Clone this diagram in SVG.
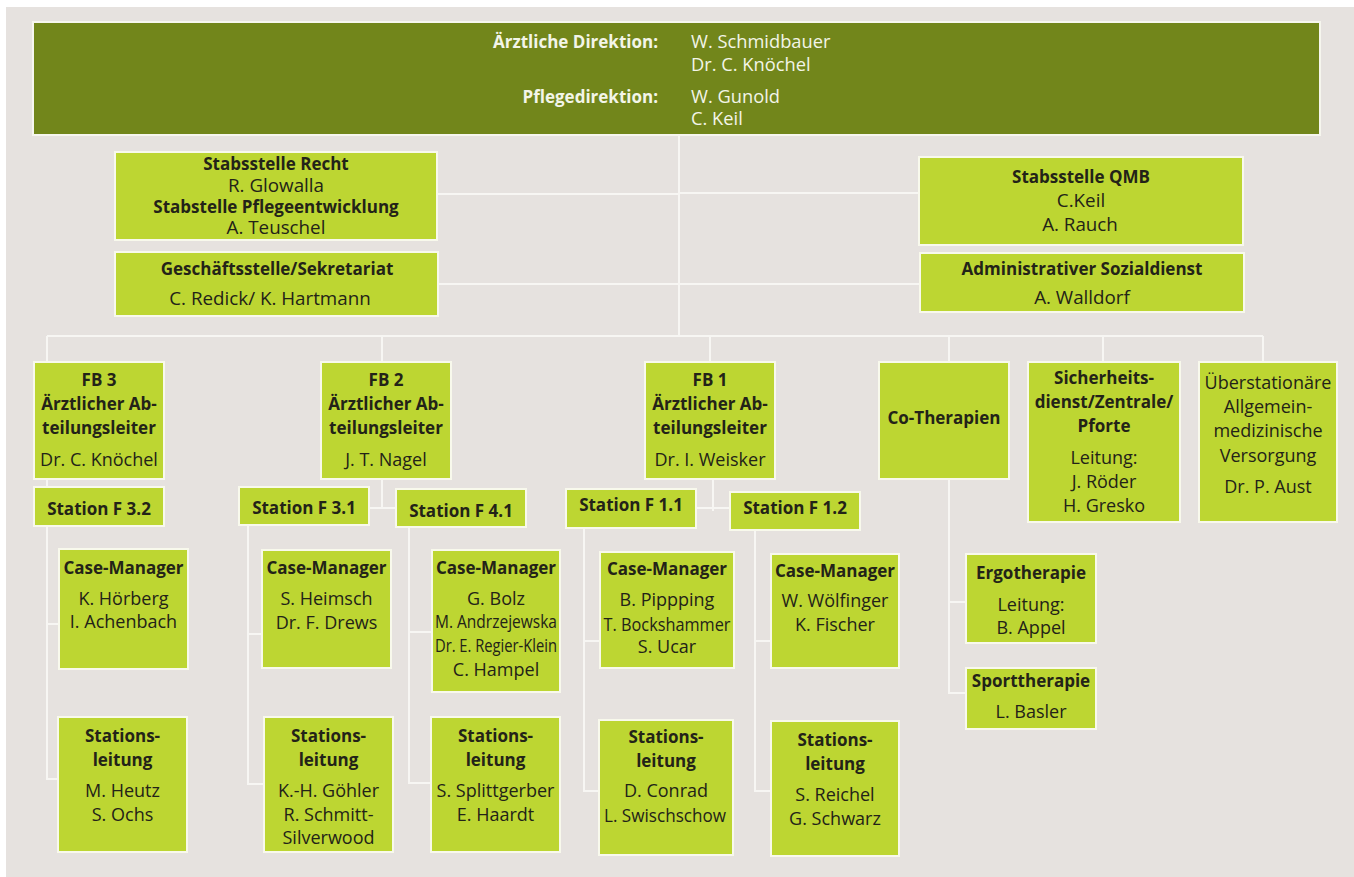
<svg xmlns="http://www.w3.org/2000/svg" width="1354" height="877" viewBox="0 0 1354 877">
<style>
.bg{fill:#e6e2df}
.top{fill:#72861b;stroke:#f6f6ee;stroke-width:2}
.box{fill:#bdd632;stroke:#f8f9ec;stroke-width:2}
.conn{stroke:#f7f6f3;stroke-width:2;fill:none}
text{font-family:"Open Sans","Noto Sans",sans-serif;font-size:18px;fill:#232318;text-anchor:middle}
.b{font-weight:700;font-size:17px}
.u{font-size:18.8px}
.w{fill:#f3f5e8;text-anchor:start;font-size:18.3px}
.we{fill:#f3f5e8;text-anchor:end;font-weight:700;font-size:17px}
</style>
<rect class="bg" x="6" y="7" width="1348" height="870"/>
<g id="connectors">
<path class="conn" d="M679,135V336M437,194H679M679,193H919M438,284H920"/>
<path class="conn" d="M47,336H1263M47,336V362M382,336V362M710,336V362M949,336V362M1103,336V362M1263,336V362"/>
<path class="conn" d="M47,479V487M47,526V779H58M47,624H59"/>
<path class="conn" d="M382,479V508M369,508H396"/>
<path class="conn" d="M248,525V784H264M248,634H262"/>
<path class="conn" d="M409,527V783H431M409,632H432"/>
<path class="conn" d="M713,479V511M696,508H730"/>
<path class="conn" d="M584,528V791H599M584,641H600"/>
<path class="conn" d="M755,530V791H771M755,641H771"/>
<path class="conn" d="M949,479V693H966M949,602H966"/>
</g>
<g id="direktion">
<rect class="top" x="33" y="22" width="1287" height="113"/>
<text class="we" x="658" y="48">Ärztliche Direktion:</text>
<text class="w" x="691" y="48">W. Schmidbauer</text>
<text class="w" x="691" y="71">Dr. C. Knöchel</text>
<text class="we" x="658" y="103">Pflegedirektion:</text>
<text class="w" x="691" y="103">W. Gunold</text>
<text class="w" x="691" y="125">C. Keil</text>
</g>
<g id="stabsstelle-recht">
<rect class="box" x="115" y="152" width="322" height="88"/>
<text class="b" x="276" y="170">Stabsstelle Recht</text>
<text class="u" x="276" y="192">R. Glowalla</text>
<text class="b" x="276" y="213">Stabstelle Pflegeentwicklung</text>
<text class="u" x="276" y="234">A. Teuschel</text>
</g>
<g id="geschaeftsstelle">
<rect class="box" x="115" y="252" width="323" height="64"/>
<text class="b" x="277" y="275">Geschäftsstelle/Sekretariat</text>
<text class="u" x="270" y="305">C. Redick/ K. Hartmann</text>
</g>
<g id="qmb">
<rect class="box" x="919" y="157" width="324" height="88"/>
<text class="b" x="1081" y="183">Stabsstelle QMB</text>
<text class="u" x="1081" y="207">C.Keil</text>
<text class="u" x="1080" y="231">A. Rauch</text>
</g>
<g id="sozialdienst">
<rect class="box" x="920" y="253" width="324" height="59"/>
<text class="b" x="1082" y="275">Administrativer Sozialdienst</text>
<text class="u" x="1082" y="304">A. Walldorf</text>
</g>
<g id="fb3">
<rect class="box" x="34" y="362" width="130" height="117"/>
<text class="b" x="99" y="386">FB 3</text>
<text class="b" x="99" y="410">Ärztlicher Ab-</text>
<text class="b" x="99" y="434">teilungsleiter</text>
<text x="99" y="466">Dr. C. Knöchel</text>
</g>
<g id="fb2">
<rect class="box" x="321" y="362" width="130" height="117"/>
<text class="b" x="386" y="386">FB 2</text>
<text class="b" x="386" y="410">Ärztlicher Ab-</text>
<text class="b" x="386" y="434">teilungsleiter</text>
<text x="386" y="466">J. T. Nagel</text>
</g>
<g id="fb1">
<rect class="box" x="645" y="362" width="130" height="117"/>
<text class="b" x="710" y="386">FB 1</text>
<text class="b" x="710" y="410">Ärztlicher Ab-</text>
<text class="b" x="710" y="434">teilungsleiter</text>
<text x="710" y="466">Dr. I. Weisker</text>
</g>
<g id="co-therapien">
<rect class="box" x="879" y="362" width="130" height="117"/>
<text class="b" x="944" y="424">Co-Therapien</text>
</g>
<g id="sicherheitsdienst">
<rect class="box" x="1028" y="362" width="152" height="160"/>
<text class="b" x="1104" y="384">Sicherheits-</text>
<text class="b" x="1104" y="408">dienst/Zentrale/</text>
<text class="b" x="1104" y="432">Pforte</text>
<text x="1104" y="464">Leitung:</text>
<text x="1104" y="488">J. Röder</text>
<text x="1104" y="512">H. Gresko</text>
</g>
<g id="ueberstationaer">
<rect class="box" x="1199" y="362" width="138" height="160"/>
<text x="1268" y="389">Überstationäre</text>
<text x="1268" y="413">Allgemein-</text>
<text x="1268" y="437">medizinische</text>
<text x="1268" y="462">Versorgung</text>
<text x="1268" y="493">Dr. P. Aust</text>
</g>
<g id="station-f32">
<rect class="box" x="34" y="487" width="130" height="39"/>
<text class="b" x="99" y="515">Station F 3.2</text>
</g>
<g id="station-f31">
<rect class="box" x="239" y="487" width="130" height="38"/>
<text class="b" x="304" y="514">Station F 3.1</text>
</g>
<g id="station-f41">
<rect class="box" x="396" y="489" width="130" height="38"/>
<text class="b" x="461" y="517">Station F 4.1</text>
</g>
<g id="station-f11">
<rect class="box" x="566" y="489" width="130" height="39"/>
<text class="b" x="631" y="511">Station F 1.1</text>
</g>
<g id="station-f12">
<rect class="box" x="730" y="492" width="130" height="38"/>
<text class="b" x="795" y="514">Station F 1.2</text>
</g>
<g id="cm-f32">
<rect class="box" x="59" y="549" width="129" height="120"/>
<text class="b" x="123.5" y="574">Case-Manager</text>
<text x="123.5" y="605">K. Hörberg</text>
<text x="123.5" y="628">I. Achenbach</text>
</g>
<g id="sl-f32">
<rect class="box" x="58" y="717" width="129" height="135"/>
<text class="b" x="122.5" y="742">Stations-</text>
<text class="b" x="122.5" y="766">leitung</text>
<text x="122.5" y="797">M. Heutz</text>
<text x="122.5" y="821">S. Ochs</text>
</g>
<g id="cm-f31">
<rect class="box" x="262" y="550" width="129" height="118"/>
<text class="b" x="326.5" y="574">Case-Manager</text>
<text x="326.5" y="605">S. Heimsch</text>
<text x="326.5" y="629">Dr. F. Drews</text>
</g>
<g id="sl-f31">
<rect class="box" x="264" y="717" width="129" height="135"/>
<text class="b" x="328.5" y="742">Stations-</text>
<text class="b" x="328.5" y="766">leitung</text>
<text x="328.5" y="797">K.-H. Göhler</text>
<text x="328.5" y="821">R. Schmitt-</text>
<text x="328.5" y="844">Silverwood</text>
</g>
<g id="cm-f41">
<rect class="box" x="432" y="550" width="128" height="142"/>
<text class="b" x="496" y="574">Case-Manager</text>
<text x="496" y="605">G. Bolz</text>
<text x="496" y="628" textLength="122" lengthAdjust="spacingAndGlyphs">M. Andrzejewska</text>
<text x="496" y="652" textLength="122" lengthAdjust="spacingAndGlyphs">Dr. E. Regier-Klein</text>
<text x="496" y="676">C. Hampel</text>
</g>
<g id="sl-f41">
<rect class="box" x="431" y="717" width="129" height="135"/>
<text class="b" x="495.5" y="742">Stations-</text>
<text class="b" x="495.5" y="766">leitung</text>
<text x="495.5" y="797">S. Splittgerber</text>
<text x="495.5" y="821">E. Haardt</text>
</g>
<g id="cm-f11">
<rect class="box" x="600" y="552" width="134" height="116"/>
<text class="b" x="667" y="575">Case-Manager</text>
<text x="667" y="606">B. Pippping</text>
<text x="667" y="631" textLength="127" lengthAdjust="spacingAndGlyphs">T. Bockshammer</text>
<text x="667" y="653">S. Ucar</text>
</g>
<g id="sl-f11">
<rect class="box" x="599" y="720" width="134" height="135"/>
<text class="b" x="666" y="743">Stations-</text>
<text class="b" x="666" y="767">leitung</text>
<text x="666" y="797">D. Conrad</text>
<text x="665" y="822" textLength="122" lengthAdjust="spacingAndGlyphs">L. Swischschow</text>
</g>
<g id="cm-f12">
<rect class="box" x="771" y="554" width="128" height="114"/>
<text class="b" x="835" y="577">Case-Manager</text>
<text x="835" y="607">W. Wölfinger</text>
<text x="835" y="631">K. Fischer</text>
</g>
<g id="sl-f12">
<rect class="box" x="771" y="721" width="128" height="135"/>
<text class="b" x="835" y="746">Stations-</text>
<text class="b" x="835" y="770">leitung</text>
<text x="835" y="801">S. Reichel</text>
<text x="835" y="825">G. Schwarz</text>
</g>
<g id="ergotherapie">
<rect class="box" x="966" y="554" width="130" height="89"/>
<text class="b" x="1031" y="579">Ergotherapie</text>
<text x="1031" y="611">Leitung:</text>
<text x="1031" y="634">B. Appel</text>
</g>
<g id="sporttherapie">
<rect class="box" x="966" y="668" width="130" height="61"/>
<text class="b" x="1031" y="687">Sporttherapie</text>
<text x="1031" y="718">L. Basler</text>
</g>
</svg>
